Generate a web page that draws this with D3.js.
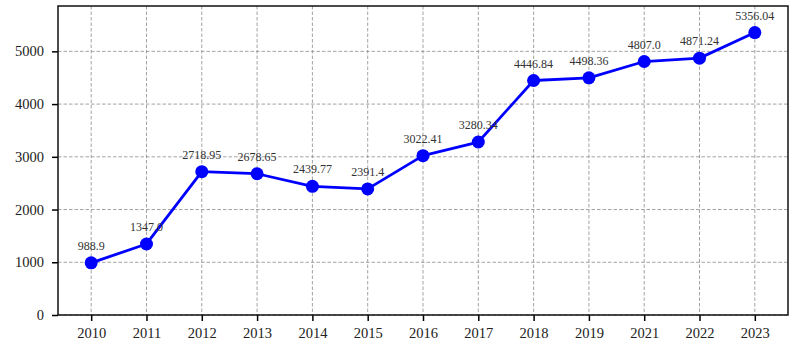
<!DOCTYPE html>
<html>
<head>
<meta charset="utf-8">
<script src="https://cdn.jsdelivr.net/npm/d3@7"></script>
<style>
  body { margin: 0; background: #fff; }
  svg { display: block; }
</style>
</head>
<body>
<svg id="chart" width="801" height="354"></svg>
<script>
// chart values
var years = ['2010', '2011', '2012', '2013', '2014', '2015', '2016',
             '2017', '2018', '2019', '2021', '2022', '2023'];
var values = [988.9, 1347.0, 2718.95, 2678.65, 2439.77, 2391.4, 3022.41,
              3280.34, 4446.84, 4498.36, 4807.0, 4871.24, 5356.04];
var labels = ['988.9', '1347.0', '2718.95', '2678.65', '2439.77', '2391.4', '3022.41',
              '3280.34', '4446.84', '4498.36', '4807.0', '4871.24', '5356.04'];
var yTicks = [0, 1000, 2000, 3000, 4000, 5000];

var svg = d3.select('#chart');
var svgWidth = +svg.attr('width');
var svgHeight = +svg.attr('height');

var padding = {t: 6, r: 13, b: 39, l: 58};
var chartWidth = svgWidth - padding.l - padding.r;
var chartHeight = svgHeight - padding.t - padding.b;

var chartG = svg.append('g')
    .attr('transform', 'translate(' + [padding.l, padding.t] + ')');

// index based x, with matplotlib style margins
var xScale = d3.scaleLinear()
    .domain([-0.6, years.length - 1 + 0.6])
    .range([0, chartWidth]);

var yScale = d3.scaleLinear()
    .domain([0, 5860])
    .range([chartHeight, 0]);

// grid lines
chartG.append('g').selectAll('line.vgrid')
    .data(years)
    .enter().append('line')
    .attr('class', 'vgrid')
    .attr('x1', function(d, i) { return xScale(i); })
    .attr('x2', function(d, i) { return xScale(i); })
    .attr('y1', 0).attr('y2', chartHeight)
    .attr('stroke', '#8c8c8c').attr('stroke-width', 0.8)
    .attr('stroke-dasharray', '3.5,2');

chartG.append('g').selectAll('line.hgrid')
    .data(yTicks)
    .enter().append('line')
    .attr('class', 'hgrid')
    .attr('x1', 0).attr('x2', chartWidth)
    .attr('y1', function(d) { return yScale(d); })
    .attr('y2', function(d) { return yScale(d); })
    .attr('stroke', '#8c8c8c').attr('stroke-width', 0.8)
    .attr('stroke-dasharray', '3.5,2');

// axes
var xAxis = d3.axisBottom(xScale)
    .tickValues(d3.range(years.length))
    .tickFormat(function(i) { return years[i]; })
    .tickSize(6).tickPadding(7).tickSizeOuter(0);

var yAxis = d3.axisLeft(yScale)
    .tickValues(yTicks)
    .tickFormat(d3.format('d'))
    .tickSize(6).tickPadding(8).tickSizeOuter(0);

var xG = chartG.append('g')
    .attr('transform', 'translate(0,' + chartHeight + ')')
    .call(xAxis);
var yG = chartG.append('g').call(yAxis);

[xG, yG].forEach(function(g) {
    g.select('.domain').remove();
    g.selectAll('.tick line').attr('stroke', '#000').attr('stroke-width', 1.5);
    g.selectAll('.tick text')
        .attr('fill', '#222')
        .style('font-family', '"Liberation Serif", "Times New Roman", serif')
        .style('font-size', '14.5px');
});

// frame
chartG.append('rect')
    .attr('x', 0).attr('y', 0)
    .attr('width', chartWidth).attr('height', chartHeight)
    .attr('fill', 'none')
    .attr('stroke', '#111').attr('stroke-width', 1.5);

// line
var line = d3.line()
    .x(function(d, i) { return xScale(i); })
    .y(function(d) { return yScale(d); });

chartG.append('path')
    .datum(values)
    .attr('d', line)
    .attr('fill', 'none')
    .attr('stroke', '#0000ff')
    .attr('stroke-width', 2.8)
    .attr('stroke-linejoin', 'round');

chartG.selectAll('circle.pt')
    .data(values)
    .enter().append('circle')
    .attr('class', 'pt')
    .attr('cx', function(d, i) { return xScale(i); })
    .attr('cy', function(d) { return yScale(d); })
    .attr('r', 6.5)
    .attr('fill', '#0000ff');

// value labels
chartG.selectAll('text.val')
    .data(values)
    .enter().append('text')
    .attr('class', 'val')
    .attr('x', function(d, i) { return xScale(i); })
    .attr('y', function(d) { return yScale(d) - 13; })
    .attr('text-anchor', 'middle')
    .attr('fill', '#333')
    .style('font-family', '"Liberation Serif", "Times New Roman", serif')
    .style('font-size', '12px')
    .text(function(d, i) { return labels[i]; });
</script>
</body>
</html>
